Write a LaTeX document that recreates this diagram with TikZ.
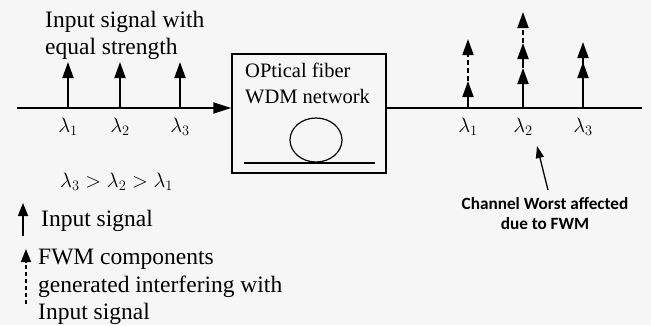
\documentclass[tikz,border=0pt]{standalone}
\usepackage{fontspec}
\setmainfont{Liberation Serif}
\newfontfamily\calibri{Carlito}
\usetikzlibrary{arrows.meta, positioning}
\definecolor{paper}{RGB}{246,246,246}

\begin{document}
\begin{tikzpicture}[x=1pt, y=-1pt]
    % styles
    \tikzstyle{sig} = [line width=1.8pt, -{Triangle[length=16pt,width=11pt]}]
    \tikzstyle{fwm} = [sig, dash pattern=on 5pt off 3pt]
    \tikzstyle{axis} = [line width=1.8pt]
    \tikzstyle{txt} = [inner sep=0pt, anchor=north west, align=left, font=\fontsize{23.5}{27.5}\selectfont]
    \tikzstyle{lam} = [inner sep=0pt, font=\fontsize{21}{24}\selectfont]
    \tikzstyle{note} = [inner sep=0pt, align=center, font=\calibri\bfseries\fontsize{17.2}{20}\selectfont]

    \fill[paper] (0,0) rectangle (651,325);

    % input side
    \node (intxt) [txt, font=\fontsize{23.5}{26.5}\selectfont] at (45,11) {Input signal with\\equal strength};
    \coordinate (lin) at (17,108);
    \node (fiber) [draw, line width=1.5pt, minimum width=154pt, minimum height=119pt, inner sep=0pt] at (309,113.5) {};
    \node (fibtxt) [txt, font=\fontsize{20.5}{26}\selectfont] at (245,63) {OPtical fiber\\WDM network};
    \draw[line width=1.2pt] (316,140) ellipse [x radius=26, y radius=22];
    \draw[line width=1.2pt] (244,163) -- (375,163);
    \draw[axis, -{Triangle[length=18pt,width=11pt]}] (lin) -- (lin -| fiber.west);

    \foreach \n/\x in {1/68, 2/120, 3/180} {
        \coordinate (a\n) at (\x,108);
        \coordinate (at\n) at (\x,62);
        \draw[sig] (a\n) -- (at\n);
        \node (la\n) [lam] at (\x,127) {$\lambda_{\n}$};
    }
    \node (order) [lam, font=\fontsize{20}{24}\selectfont, anchor=base west] at (60,187) {$\lambda_3 > \lambda_2 > \lambda_1$};

    % output side
    \coordinate (lout) at (642,108);
    \draw[axis] (lout -| fiber.east) -- (lout);

    \coordinate (b1) at (468,108);
    \coordinate (b2) at (523,108);
    \coordinate (b3) at (583,108);
    \coordinate (b1s) at (468,81);
    \coordinate (b1f) at (468,39);
    \coordinate (b2s) at (523,68);
    \coordinate (b2m) at (523,43);
    \coordinate (b2f) at (523,12);
    \coordinate (b3s) at (583,62);
    \coordinate (b3f) at (583,42);
    \draw[sig] (b1) -- (b1s);
    \draw[fwm] (b1s) -- (b1f);
    \draw[sig] (b2) -- (b2s);
    \draw[sig] (b2s) -- (b2m);
    \draw[fwm] (b2m) -- (b2f);
    \draw[sig] (b3) -- (b3f);
    \draw[sig] (b3) -- (b3s);
    \foreach \n/\x in {1/468, 2/523, 3/583}
        \node (lb\n) [lam] at (\x,127) {$\lambda_{\n}$};

    \node (worst) [note, anchor=north] at (545,197) {Channel Worst affected\\due to FWM};
    \draw[line width=1.3pt, -{Triangle[length=12pt,width=8pt]}] (worst.north) ++(3,-7) coordinate (wp) -- (537,146);

    % legend
    \coordinate (k1) at (23,236);
    \coordinate (k1t) at (23,203);
    \draw[sig, line width=1.7pt, -{Triangle[length=13pt,width=10pt]}] (k1) -- (k1t);
    \node (k1txt) [txt] at (41,210) {Input signal};
    \coordinate (k2) at (26,304);
    \coordinate (k2t) at (26,249);
    \draw[fwm, line width=1.7pt, dash pattern=on 4pt off 3pt, -{Triangle[length=13pt,width=10pt]}] (k2) -- (k2t);
    \node (k2txt) [txt] at (38,249) {FWM components\\generated interfering with\\Input signal};
\end{tikzpicture}
\end{document}
